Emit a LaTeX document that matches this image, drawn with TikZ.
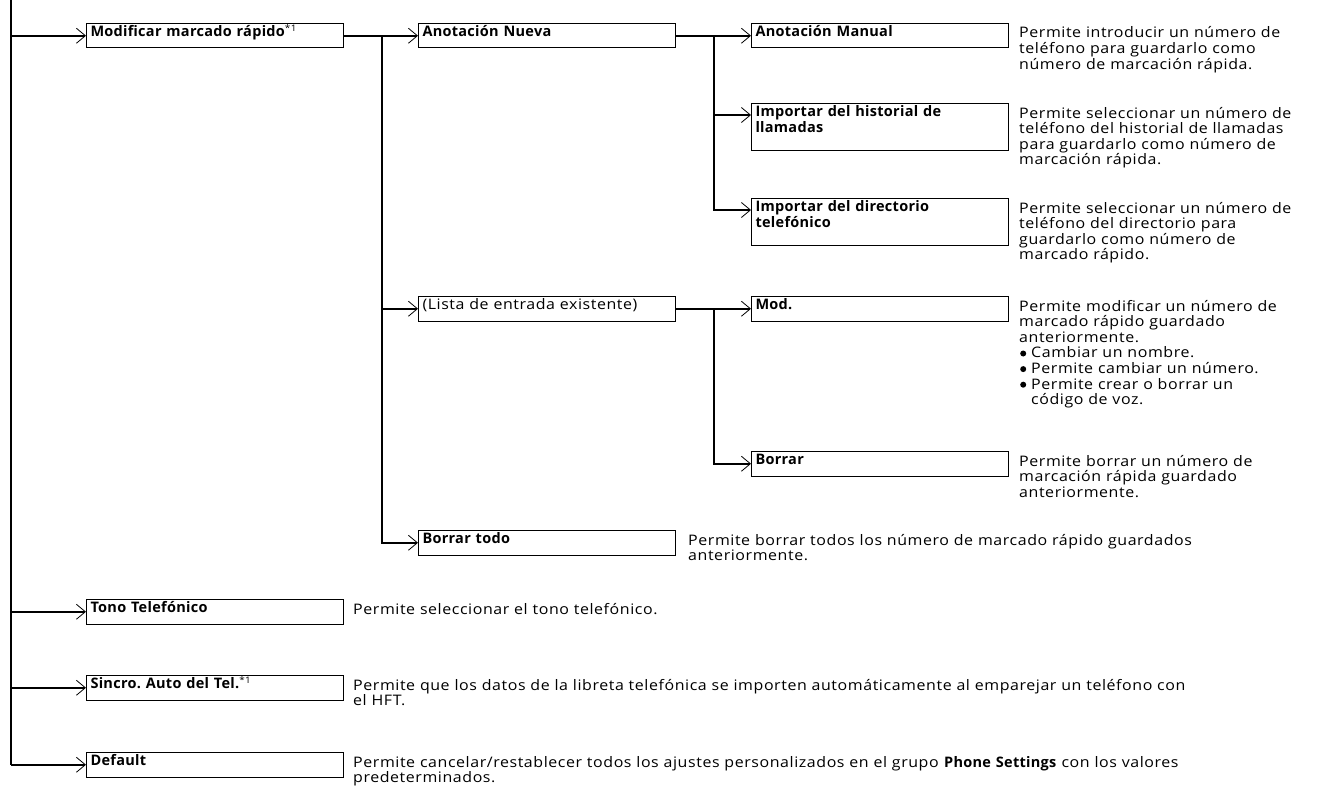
\documentclass[tikz,border=0pt]{standalone}
\usepackage{fontspec}
\setmainfont{Open Sans}[FakeStretch=1.1,LetterSpace=4,BoldFeatures={FakeStretch=1.0,LetterSpace=2}]
\usetikzlibrary{arrows.meta}
\newcommand\bodyfont{\fontsize{14.5pt}{15.6pt}\selectfont\frenchspacing}
\newcommand\sref{{\mdseries\fontsize{9pt}{9pt}\selectfont\raisebox{5pt}{*1}}}
\newcommand\bul{\hspace{1pt}\tikz[baseline=0pt]\fill (3pt,4.3pt) circle (3pt);\hspace{5pt}}
\tikzset{itm/.style={draw,line width=1pt,anchor=north west,text width=249pt,inner xsep=4pt,inner ysep=0pt,text height=13pt,text depth=11.5pt,align=left,font=\bodyfont\bfseries},
  itmtwo/.style={itm,text depth=34pt},
  desc/.style={anchor=base west,inner sep=0pt,text width=330pt,align=left,font=\bodyfont},
  wire/.style={line width=1.8pt},
  wirearrow/.style={wire,-{Straight Barb[length=9pt,width=15pt,line width=0.8pt]}}}

\begin{document}
\begin{tikzpicture}[x=1pt,y=-1pt]
  \useasboundingbox (0,0) rectangle (1328,792);
  % menu boxes
  \node[itm] (modif) at (86,23) {Modificar marcado rápido\sref};
  \node[itm] (anotN) at (418,23) {Anotación Nueva};
  \node[itm] (anotM) at (751,23) {Anotación Manual};
  \node[itmtwo] (impH) at (751,103) {Importar del historial de\\llamadas};
  \node[itmtwo] (impD) at (751,198) {Importar del directorio\\telefónico};
  \node[itm,font=\bodyfont] (lista) at (418,296) {(Lista de entrada existente)};
  \node[itm] (mod) at (751,296) {Mod.};
  \node[itm] (borr) at (751,451) {Borrar};
  \node[itm] (borrT) at (418,530) {Borrar todo};
  \node[itm] (tono) at (86,599) {Tono Telefónico};
  \node[itm] (sincro) at (86,675) {Sincro. Auto del Tel.\sref};
  \node[itm] (dflt) at (86,752) {Default};
  % texts
  \node[desc] (dAnotM) at (1019,38) {Permite introducir un número de\\teléfono para guardarlo como\\número de marcación rápida.};
  \node[desc] (dImpH) at (1019,118) {Permite seleccionar un número de\\teléfono del historial de llamadas\\para guardarlo como número de\\marcación rápida.};
  \node[desc] (dImpD) at (1019,213) {Permite seleccionar un número de\\teléfono del directorio para\\guardarlo como número de\\marcado rápido.};
  \node[desc] (dMod) at (1019,311) {Permite modificar un número de\\marcado rápido guardado\\anteriormente.\\\bul Cambiar un nombre.\\\bul Permite cambiar un número.\\\bul Permite crear o borrar un\\\hphantom{\bul}código de voz.};
  \node[desc] (dBorr) at (1019,466) {Permite borrar un número de\\marcación rápida guardado\\anteriormente.};
  \node[desc,text width=620pt] (dBorrT) at (688,545) {Permite borrar todos los número de marcado rápido guardados\\anteriormente.};
  \node[desc] (dTono) at (353,614) {Permite seleccionar el tono telefónico.};
  \node[desc,text width=950pt] (dSincro) at (353,690) {Permite que los datos de la libreta telefónica se importen automáticamente al emparejar un teléfono con\\el HFT.};
  \node[desc,text width=950pt] (dDflt) at (353,767) {Permite cancelar/restablecer todos los ajustes personalizados en el grupo \textbf{Phone Settings} con los valores\\predeterminados.};
  % branch points
  \coordinate (s0) at (11,0);
  \coordinate (b1) at ([xshift=38pt]modif.east);
  \coordinate (b2) at ([xshift=38pt]anotN.east);
  \coordinate (b3) at ([xshift=38pt]lista.east);
  \coordinate (inH) at ([yshift=-12pt]impH.north west);
  \coordinate (inD) at ([yshift=-12pt]impD.north west);
  % connectors
  \draw[wire] (s0) -- (s0 |- dflt.west);
  \foreach \n in {modif,tono,sincro,dflt}
    \draw[wirearrow] (s0 |- \n.west) -- (\n.west);
  \draw[wirearrow] (modif.east) -- (anotN.west);
  \draw[wirearrow] (b1) |- (borrT.west);
  \draw[wirearrow] (b1 |- lista.west) -- (lista.west);
  \draw[wirearrow] (anotN.east) -- (anotM.west);
  \draw[wirearrow] (b2) |- (inD);
  \draw[wirearrow] (b2 |- inH) -- (inH);
  \draw[wirearrow] (lista.east) -- (mod.west);
  \draw[wirearrow] (b3) |- (borr.west);
\end{tikzpicture}
\end{document}
